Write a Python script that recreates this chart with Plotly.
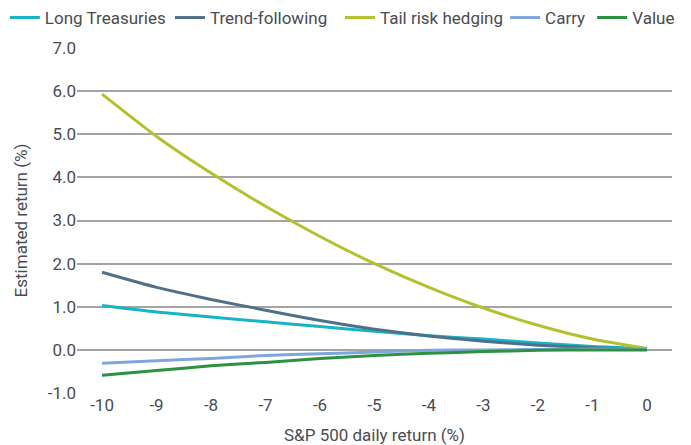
import plotly.graph_objects as go

x_vals = [-10, -9, -8, -7, -6, -5, -4, -3, -2, -1, 0]
long_treasuries = [1.03, 0.88, 0.76, 0.65, 0.54, 0.43, 0.33, 0.25, 0.16, 0.08, 0.03]
trend_following = [1.80, 1.45, 1.17, 0.92, 0.68, 0.48, 0.32, 0.20, 0.11, 0.05, 0.02]
tail_risk = [5.93, 4.95, 4.10, 3.33, 2.63, 2.00, 1.45, 0.97, 0.57, 0.25, 0.03]
carry = [-0.31, -0.25, -0.20, -0.13, -0.09, -0.05, -0.01, 0.00, 0.01, 0.02, 0.02]
value = [-0.59, -0.48, -0.37, -0.29, -0.20, -0.13, -0.08, -0.04, -0.01, 0.00, 0.00]
y_ticks = [-1, 0, 1, 2, 3, 4, 5, 6, 7]
y_tick_labels = ["-1.0", "0.0", "1.0", "2.0", "3.0", "4.0", "5.0", "6.0", "7.0"]

series = [
    ("Long Treasuries", long_treasuries, "#17B4C6"),
    ("Trend-following", trend_following, "#4E7189"),
    ("Tail risk hedging", tail_risk, "#B4C02F"),
    ("Carry", carry, "#7EA6DC"),
    ("Value", value, "#2C9140"),
]
# left edge of each legend entry (fraction of figure width)
legend_x = [0.007, 0.246, 0.492, 0.731, 0.857]

txt = "#4A4B55"
fam = "Roboto, sans-serif"

fig = go.Figure()
legend_layout = {}
for i, ((name, ys, color), lx) in enumerate(zip(series, legend_x)):
    key = "legend" if i == 0 else f"legend{i + 1}"
    fig.add_trace(go.Scatter(x=x_vals, y=ys, name=name, mode="lines", legend=key,
                             line=dict(color=color, width=3, shape="spline", smoothing=0.6)))
    legend_layout[key] = dict(orientation="h", x=lx, xanchor="left", xref="container",
                              y=1.0, yanchor="top", yref="container",
                              bgcolor="rgba(0,0,0,0)",
                              font=dict(size=17, color=txt, family=fam), itemwidth=30)

fig.update_layout(
    width=691, height=445,
    margin=dict(l=77, r=19, t=48, b=52),
    paper_bgcolor="white", plot_bgcolor="white",
    font=dict(family=fam, size=17, color=txt),
    showlegend=True,
    xaxis=dict(range=[-10.46, 0.46], tickmode="array", tickvals=x_vals, automargin=False,
               ticktext=[str(v) for v in x_vals], showgrid=False, zeroline=False,
               showline=False, ticks="", tickfont=dict(size=17, color=txt, family=fam),
               title=dict(text="S&P 500 daily return (%)", font=dict(size=17, color=txt, family=fam))),
    yaxis=dict(range=[-1, 7], tickmode="array", tickvals=y_ticks, ticktext=y_tick_labels,
               showgrid=True, automargin=False,
               gridcolor="#A3A3A8", gridwidth=1.5, zeroline=False, showline=False,
               tickfont=dict(size=17, color=txt, family=fam), ticks="",
               title=dict(text="Estimated return (%)", font=dict(size=17, color=txt, family=fam))),
    **legend_layout,
)

fig.write_html("out.html", config={"displayModeBar": False},
               post_script="document.body.style.margin='0';")
